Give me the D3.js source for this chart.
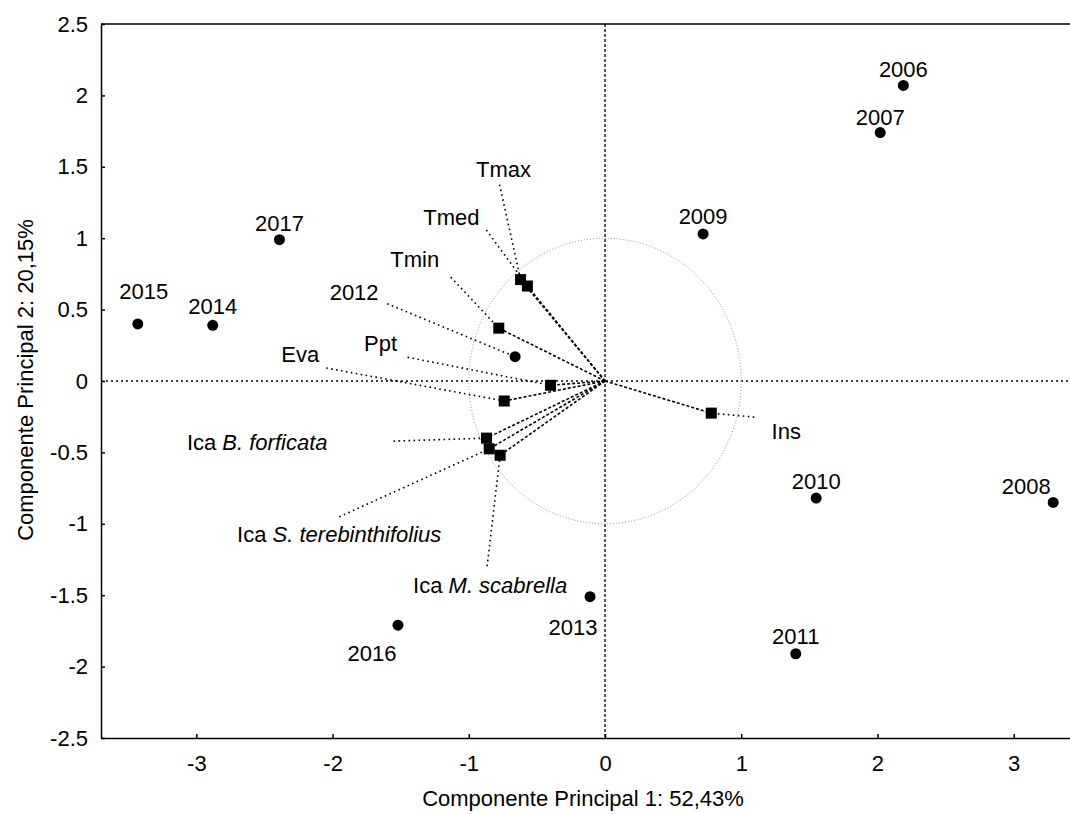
<!DOCTYPE html>
<html>
<head>
<meta charset="utf-8">
<script src="https://cdn.jsdelivr.net/npm/d3@7"></script>
<style>
  body { margin: 0; background: #fff; overflow: hidden; }
  svg { display: block; font-family: "Liberation Sans", Arial, sans-serif; }
  .lbl { font-size: 22px; fill: #000; }
  .axis text { font-size: 22px; fill: #000; font-family: "Liberation Sans", Arial, sans-serif; }
  .axis path, .axis line { stroke: #000; stroke-width: 1.5; }
</style>
</head>
<body>
<svg id="chart"></svg>
<script>
"use strict";

var width = 1070,
    height = 814;

// cases (years) - scores on PC1 / PC2
var caseNames = ["2006", "2007", "2008", "2009", "2010", "2011", "2012", "2013", "2014", "2015", "2016", "2017"];
var caseX = [2.19, 2.02, 3.29, 0.72, 1.55, 1.40, -0.66, -0.11, -2.88, -3.43, -1.52, -2.39];
var caseY = [2.07, 1.74, -0.85, 1.03, -0.82, -1.91, 0.17, -1.51, 0.39, 0.40, -1.71, 0.99];

// variables - loadings on PC1 / PC2
var varNames = ["Tmax", "Tmed", "Tmin", "Ppt", "Eva", "Ica B. forficata", "Ica S. terebinthifolius", "Ica M. scabrella", "Ins"];
var varX = [-0.62, -0.57, -0.78, -0.40, -0.74, -0.87, -0.85, -0.77, 0.78];
var varY = [0.71, 0.665, 0.37, -0.03, -0.14, -0.40, -0.475, -0.52, -0.225];

var xTicks = [-3, -2, -1, 0, 1, 2, 3];
var yTicks = [-2.5, -2, -1.5, -1, -0.5, 0, 0.5, 1, 1.5, 2, 2.5];

var xTitle = "Componente Principal 1: 52,43%",
    yTitle = "Componente Principal 2: 20,15%";

// label placement (pixel offsets from the mark): [dx, dy, anchor, leaderDx, leaderDy]
var caseLabelPos = {
    "2006": [0, -8], "2007": [0, -8], "2008": [-27, -8], "2009": [0, -10],
    "2010": [0, -9], "2011": [0, -10], "2012": [-161, -57, "middle", -128, -53],
    "2013": [-17, 38], "2014": [0, -11], "2015": [6, -25], "2016": [-26, 36], "2017": [0, -9]
};
var varLabelPos = {
    "Tmax": [-17, -103, "middle", -21, -95],
    "Tmed": [-76, -61, "middle", -41, -56],
    "Tmin": [-84, -61, "middle", -48, -51],
    "Ppt": [-170, -34, "middle", -143, -28],
    "Eva": [-204, -39, "middle", -178, -33],
    "Ica B. forficata": [-159, 12, "end", -93, 3],
    "Ica S. terebinthifolius": [-150, 93, "middle", -150, 68],
    "Ica M. scabrella": [-10, 138, "middle", -13, 111],
    "Ins": [75, 26, "middle", 43, 4]
};

var margin = { left: 101, top: 24, right: 1075, bottom: 738 };

var x = d3.scaleLinear().domain([-3.7, 3.45]).range([margin.left, margin.right]);
var y = d3.scaleLinear().domain([-2.5, 2.5]).range([margin.bottom, margin.top]);

var svg = d3.select("#chart")
    .attr("width", width)
    .attr("height", height);

var plot = svg.append("g");

// zero lines
plot.append("line")
    .attr("x1", x(0)).attr("x2", x(0))
    .attr("y1", y(2.5)).attr("y2", y(-2.5))
    .attr("stroke", "#000").attr("stroke-width", 1.3)
    .attr("stroke-dasharray", "3,2");
plot.append("line")
    .attr("x1", x.range()[0]).attr("x2", x.range()[1])
    .attr("y1", y(0)).attr("y2", y(0))
    .attr("stroke", "#000").attr("stroke-width", 1.3)
    .attr("stroke-dasharray", "2,3");

// unit circle
plot.append("ellipse")
    .attr("cx", x(0)).attr("cy", y(0))
    .attr("rx", x(1) - x(0)).attr("ry", y(0) - y(1))
    .attr("fill", "none")
    .attr("stroke", "#8a8a8a").attr("stroke-width", 1)
    .attr("stroke-dasharray", "1,2");

var vars = varNames.map(function (d, i) { return { name: d, x: varX[i], y: varY[i], pos: varLabelPos[d] }; });
var cases = caseNames.map(function (d, i) { return { name: d, x: caseX[i], y: caseY[i], pos: caseLabelPos[d] }; });

// vectors from the origin
plot.selectAll(".vec")
    .data(vars)
    .enter().append("line")
    .attr("class", "vec")
    .attr("x1", x(0)).attr("y1", y(0))
    .attr("x2", function (d) { return x(d.x); })
    .attr("y2", function (d) { return y(d.y); })
    .attr("stroke", "#000").attr("stroke-width", 1.6)
    .attr("stroke-dasharray", "3,2");

// leader lines
var leaders = vars.concat(cases).filter(function (d) { return d.pos.length > 3; });
plot.selectAll(".leader")
    .data(leaders)
    .enter().append("line")
    .attr("class", "leader")
    .attr("x1", function (d) { return x(d.x) + d.pos[3]; })
    .attr("y1", function (d) { return y(d.y) + d.pos[4]; })
    .attr("x2", function (d) { return x(d.x); })
    .attr("y2", function (d) { return y(d.y); })
    .attr("stroke", "#000").attr("stroke-width", 1.6)
    .attr("stroke-dasharray", "1.6,3.4");

// variable markers
plot.selectAll(".sq")
    .data(vars)
    .enter().append("rect")
    .attr("class", "sq")
    .attr("x", function (d) { return x(d.x) - 5.5; })
    .attr("y", function (d) { return y(d.y) - 5.5; })
    .attr("width", 11).attr("height", 11)
    .attr("fill", "#000");

// case markers
plot.selectAll(".dot")
    .data(cases)
    .enter().append("circle")
    .attr("class", "dot")
    .attr("cx", function (d) { return x(d.x); })
    .attr("cy", function (d) { return y(d.y); })
    .attr("r", 5.5)
    .attr("fill", "#000");

// labels
function addLabels(data, cls) {
    var t = plot.selectAll("." + cls)
        .data(data)
        .enter().append("text")
        .attr("class", "lbl " + cls)
        .attr("x", function (d) { return x(d.x) + d.pos[0]; })
        .attr("y", function (d) { return y(d.y) + d.pos[1]; })
        .attr("text-anchor", function (d) { return d.pos[2] || "middle"; });
    t.each(function (d) {
        var el = d3.select(this);
        if (d.name.indexOf("Ica ") === 0) {
            el.append("tspan").text("Ica ");
            el.append("tspan").attr("font-style", "italic").text(d.name.slice(4));
        } else {
            el.text(d.name);
        }
    });
}
addLabels(cases, "clab");
addLabels(vars, "vlab");

// axes
var fmt = function (d) { return String(d); };

svg.append("g")
    .attr("class", "axis")
    .attr("transform", "translate(" + margin.left + ",0)")
    .call(d3.axisLeft(y).tickValues(yTicks).tickFormat(fmt)
        .tickSizeInner(-4).tickSizeOuter(0).tickPadding(13));

svg.append("g")
    .attr("class", "axis")
    .attr("transform", "translate(0," + margin.bottom + ")")
    .call(d3.axisBottom(x).tickValues(xTicks).tickFormat(fmt)
        .tickSizeInner(-4).tickSizeOuter(0).tickPadding(17));

// top frame line (right side falls outside the picture)
svg.append("line")
    .attr("x1", margin.left).attr("x2", margin.right)
    .attr("y1", margin.top).attr("y2", margin.top)
    .attr("stroke", "#000").attr("stroke-width", 1.5);

svg.selectAll(".axis text").attr("font-family", null);

// titles
svg.append("text")
    .attr("class", "lbl")
    .attr("x", 583).attr("y", 806)
    .attr("text-anchor", "middle")
    .text(xTitle);

svg.append("text")
    .attr("class", "lbl")
    .attr("transform", "translate(33," + 380 + ") rotate(-90)")
    .attr("text-anchor", "middle")
    .text(yTitle);
</script>
</body>
</html>
